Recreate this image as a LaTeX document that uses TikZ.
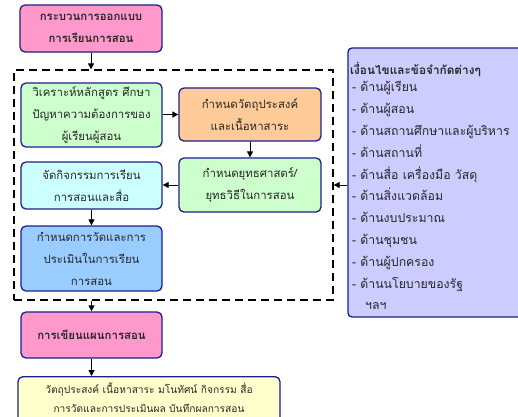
\documentclass[tikz,border=0pt]{standalone}
\usepackage{fontspec}
\newfontfamily\thaifont[Script=Thai]{Loma}
\usetikzlibrary{arrows.meta}
\definecolor{bordc}{RGB}{30,30,140}
\definecolor{txtc}{RGB}{40,40,40}
\definecolor{pinkc}{RGB}{255,153,204}
\definecolor{greenc}{RGB}{204,255,204}
\definecolor{orangec}{RGB}{255,204,153}
\definecolor{cyanc}{RGB}{204,255,255}
\definecolor{bluec}{RGB}{153,204,255}
\definecolor{lavc}{RGB}{204,204,255}
\definecolor{yellowc}{RGB}{255,255,204}
\tikzset{
  box/.style={draw=bordc, line width=1.3pt, rounded corners=5pt, align=center,
    text=txtc, inner sep=2pt, font=\thaifont\fontsize{11.4}{22}\selectfont},
  boldbox/.style={box, font=\thaifont\bfseries\fontsize{11.4}{22}\selectfont},
  txt/.style={text=txtc, inner sep=0pt},
  arr/.style={draw=black, line width=1pt, -{Triangle[length=6pt,width=6pt]}},
  grp/.style={draw=black, line width=1.3pt, dash pattern=on 8pt off 5pt}
}
\begin{document}
\begin{tikzpicture}[x=1pt,y=-1pt]
\useasboundingbox (0,0) rectangle (518,416);
\clip (0,0) rectangle (518,416);
\fill[white] (0,0) rectangle (518,416);

\node[grp, minimum width=319pt, minimum height=230pt] (group) at (173.5,185) {};

\node[boldbox, fill=pinkc, minimum width=142pt, minimum height=47pt] (box0) at (91,28.5)
  {กระบวนการออกแบบ\\การเรียนการสอน};
\node[box, fill=greenc, minimum width=141pt, minimum height=64pt] (box1) at (91.5,115)
  {วิเคราะห์หลักสูตร ศึกษา\\ปัญหาความต้องการของ\\ผู้เรียนผู้สอน};
\node[box, fill=orangec, minimum width=142pt, minimum height=53pt] (box2) at (250,114.5)
  {กำหนดวัตถุประสงค์\\และเนื้อหาสาระ};
\node[box, fill=greenc, minimum width=142pt, minimum height=54pt] (box3) at (250,185)
  {กำหนดยุทธศาสตร์/\\ยุทธวิธีในการสอน};
\node[box, fill=cyanc, minimum width=141pt, minimum height=47pt] (box4) at (91.5,185.5)
  {จัดกิจกรรมการเรียน\\การสอนและสื่อ};
\node[box, fill=bluec, minimum width=141pt, minimum height=65pt] (box5) at (91.5,258.5)
  {กำหนดการวัดและการ\\ประเมินในการเรียน\\การสอน};
\node[boldbox, fill=pinkc, minimum width=141pt, minimum height=46pt] (box6) at (91.5,335)
  {การเขียนแผนการสอน};
\node[box, fill=yellowc, minimum width=262pt, minimum height=60pt, anchor=north] (box7) at (149,376) {};
\node[txt, align=center, font=\thaifont\fontsize{10.2}{19}\selectfont] (box7t) at (149,397.5)
  {วัตถุประสงค์ เนื้อหาสาระ มโนทัศน์ กิจกรรม สื่อ\\การวัดและการประเมินผล บันทึกผลการสอน};

\node[box, rounded corners=4pt, fill=lavc, minimum width=182pt, minimum height=269pt] (cond) at (439,182.5) {};
\node[txt, align=left, anchor=west, font=\thaifont\fontsize{12.3}{21.8}\selectfont] (condt) at (350,186)
  {{\bfseries\fontsize{11.8}{21.8}\selectfont เงื่อนไขและข้อจำกัดต่างๆ}\\[-4pt]
   \hspace{2pt}- ด้านผู้เรียน\\
   \hspace{2pt}- ด้านผู้สอน\\
   \hspace{2pt}- ด้านสถานศึกษาและผู้บริหาร\\
   \hspace{2pt}- ด้านสถานที่\\
   \hspace{2pt}- ด้านสื่อ เครื่องมือ วัสดุ\\
   \hspace{2pt}- ด้านสิ่งแวดล้อม\\
   \hspace{2pt}- ด้านงบประมาณ\\
   \hspace{2pt}- ด้านชุมชน\\
   \hspace{2pt}- ด้านผู้ปกครอง\\
   \hspace{2pt}- ด้านนโยบายของรัฐ\\
   \hspace{15pt}ฯลฯ};

\draw[arr] (box0.south) -- (box0.south |- group.north);
\draw[arr] (box1.east |- box2.west) -- (box2.west);
\draw[arr] (box2.south) -- (box3.north);
\draw[arr] (box3.west) -- (box3.west -| box4.east);
\draw[arr] (box4.south) -- (box5.north);
\draw[arr] (box6.north |- group.south) -- (box6.north);
\draw[arr] (box6.south) -- (box7.north -| box6.south);
\draw[arr] (group.east -| cond.west) -- (group.east);
\end{tikzpicture}
\end{document}
